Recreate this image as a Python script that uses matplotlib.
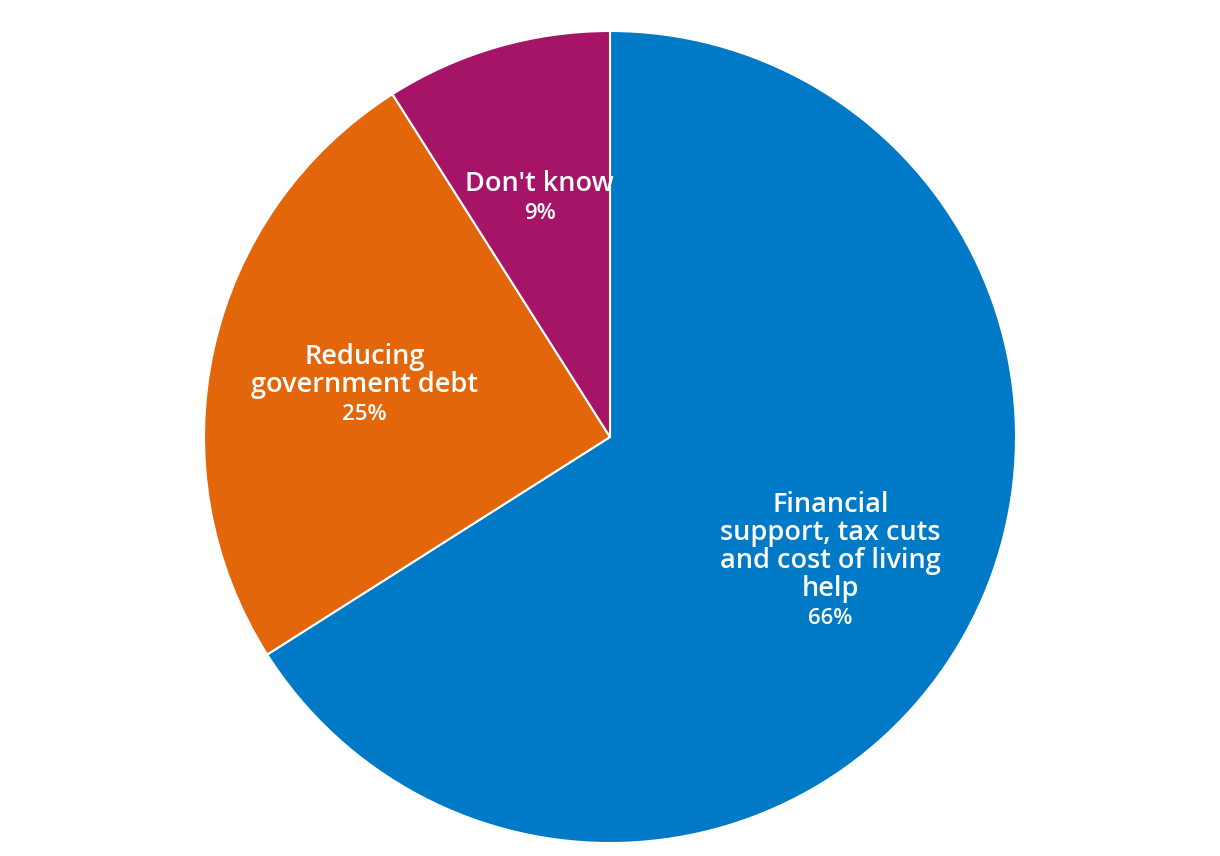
import numpy as np
import matplotlib

matplotlib.use("Agg")
import matplotlib.pyplot as plt

categories = [
    "Financial\nsupport, tax cuts\nand cost of living\nhelp",
    "Reducing\ngovernment debt",
    "Don't know",
]
shares = [66, 25, 9]
colors = ["#0079C6", "#E4660B", "#A51467"]

W, H = 1220, 856
cx, cy, R = 610, 437, 406
LINE = 28  # px between baselines

fig = plt.figure(figsize=(W / 100, H / 100), dpi=100)
ax = fig.add_axes([(cx - R) / W, (H - cy - R) / H, 2 * R / W, 2 * R / H])

wedges, _ = ax.pie(
    shares,
    colors=colors,
    startangle=90,
    counterclock=False,
    radius=1.0,
    wedgeprops=dict(edgecolor="white", linewidth=1.5),
)
ax.set_xlim(-1, 1)
ax.set_ylim(-1, 1)
ax.set_aspect("equal")
ax.axis("off")

for w, name, val in zip(wedges, categories, shares):
    mid = np.deg2rad((w.theta1 + w.theta2) / 2)
    x, y = 0.62 * np.cos(mid), 0.62 * np.sin(mid)
    lines = name.split("\n") + [f"{val}%"]
    n = len(lines)
    for i, line in enumerate(lines):
        dy = -((i - (n - 1) / 2) * LINE + 9.5)
        is_pct = i == n - 1
        ax.annotate(
            line,
            (x, y),
            xytext=(0, dy),
            textcoords="offset pixels",
            ha="center",
            va="baseline",
            color="white",
            fontsize=16 if is_pct else 19.5,
            fontweight="semibold",
            family="Open Sans",
        )

fig.savefig("out.png", dpi=100)
